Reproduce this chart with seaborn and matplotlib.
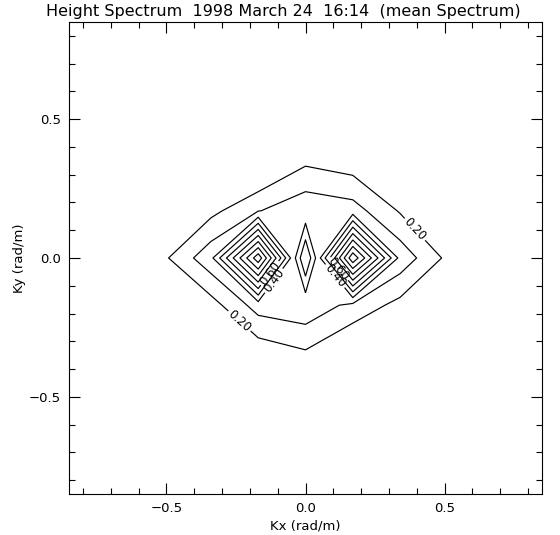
import numpy as np
import matplotlib
matplotlib.use("Agg")
import matplotlib.pyplot as plt
from matplotlib.ticker import MultipleLocator
import seaborn as sns

# wavenumber grid (rad/m)
kx = np.round(np.arange(-5, 6) * 0.17, 2)
ky = np.round(np.arange(-5, 6) * 0.17, 2)

# mean height spectrum (normalised), one list per ky row, bottom to top
row_m5 = [0.00, 0.00, 0.00, 0.00, 0.00, 0.00, 0.00, 0.00, 0.00, 0.00, 0.00]
row_m4 = [0.00, 0.00, 0.00, 0.01, 0.01, 0.02, 0.01, 0.01, 0.00, 0.00, 0.00]
row_m3 = [0.00, 0.00, 0.01, 0.02, 0.03, 0.05, 0.03, 0.02, 0.01, 0.00, 0.00]
row_m2 = [0.00, 0.00, 0.02, 0.04, 0.135, 0.19, 0.086, 0.04, 0.02, 0.00, 0.00]
row_m1 = [0.00, 0.01, 0.07, 0.156, 0.345, 0.375, 0.27, 0.167, 0.06, 0.01, 0.00]
row_0 = [0.00, 0.05, 0.18, 0.37, 1.07, 0.09, 1.08, 0.366, 0.177, 0.05, 0.00]
row_p1 = [0.00, 0.01, 0.08, 0.17, 0.295, 0.375, 0.345, 0.19, 0.06, 0.01, 0.00]
row_p2 = [0.00, 0.00, 0.02, 0.03, 0.06, 0.19, 0.152, 0.05, 0.02, 0.00, 0.00]
row_p3 = [0.00, 0.00, 0.01, 0.02, 0.03, 0.05, 0.03, 0.02, 0.01, 0.00, 0.00]
row_p4 = [0.00, 0.00, 0.00, 0.01, 0.01, 0.02, 0.01, 0.01, 0.00, 0.00, 0.00]
row_p5 = [0.00, 0.00, 0.00, 0.00, 0.00, 0.00, 0.00, 0.00, 0.00, 0.00, 0.00]

# IDL labels every other level
label_levels = [0.2, 0.4, 0.6]
plain_levels = [0.3, 0.5, 0.7, 0.8, 0.9, 1.0]

spec = np.array([row_m5, row_m4, row_m3, row_m2, row_m1, row_0,
                 row_p1, row_p2, row_p3, row_p4, row_p5])

sns.set_style("ticks", {"axes.edgecolor": "black", "xtick.color": "black",
                        "ytick.color": "black", "text.color": "black",
                        "axes.labelcolor": "black"})
plt.rcParams["font.family"] = ["DejaVu Sans"]

fig = plt.figure(figsize=(5.6, 5.35), dpi=100)
ax = fig.add_axes([69 / 560, 1 - 494 / 535, 473 / 560, 472 / 535])

ax.contour(kx, ky, spec, levels=plain_levels, colors="black", linewidths=0.85)
cs = ax.contour(kx, ky, spec, levels=label_levels, colors="black", linewidths=0.85)
ax.clabel(cs, fmt="%.2f", fontsize=8.5, inline=True, inline_spacing=2,
          manual=[(0.39, 0.10), (-0.24, -0.23),
                  (-0.12, -0.077), (0.105, -0.066),
                  (-0.136, -0.049), (0.116, -0.041)])

ax.set_xlim(-0.85, 0.85)
ax.set_ylim(-0.85, 0.85)
ax.set_xticks([-0.5, 0.0, 0.5])
ax.set_yticks([-0.5, 0.0, 0.5])
ax.xaxis.set_minor_locator(MultipleLocator(0.1))
ax.yaxis.set_minor_locator(MultipleLocator(0.1))
ax.tick_params(which="both", direction="in", top=True, right=True,
               width=0.8, labelsize=9.5, pad=6, colors="black")
ax.tick_params(which="major", length=8)
ax.tick_params(which="minor", length=4)
for s in ax.spines.values():
    s.set_linewidth(0.8)

ax.set_xlabel("Kx (rad/m)", fontsize=9.5, labelpad=3)
ax.set_ylabel("Ky (rad/m)", fontsize=9.5, labelpad=2)
fig.text(0.506, 0.979, "Height Spectrum  1998 March 24  16:14  (mean Spectrum)",
         ha="center", va="center", fontsize=11.5)

fig.savefig("out.png", dpi=100, facecolor="white")
